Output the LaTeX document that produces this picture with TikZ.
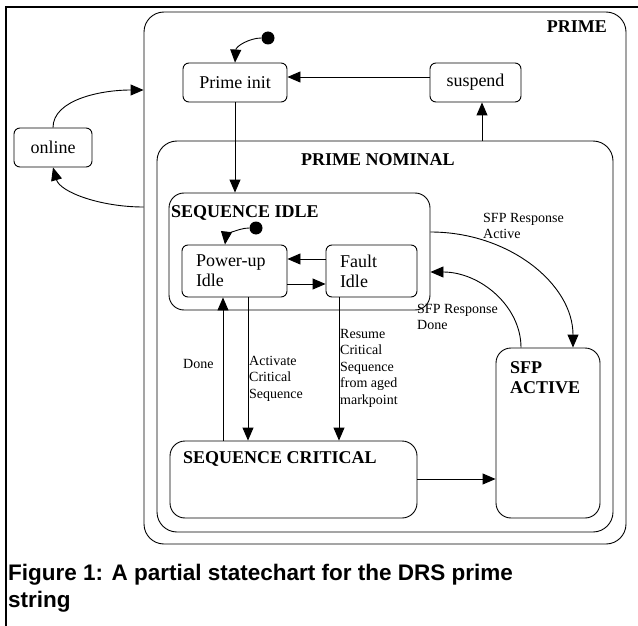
\documentclass[tikz,border=0pt]{standalone}
\usepackage{fontspec}
\setmainfont{Liberation Serif}
\newfontfamily\capfont{Liberation Sans}
\usepackage{tikz}
\usetikzlibrary{calc,arrows.meta}
\tikzset{
  statebox/.style={draw, line width=0.9pt, rounded corners=6pt, inner sep=0pt,
    font=\fontsize{18}{20}\selectfont},
  region/.style={draw, line width=0.9pt, rounded corners=#1, inner sep=0pt},
  region/.default=15pt,
  tr/.style={draw, line width=0.9pt, -{Triangle[length=13pt,width=11pt]}},
  title/.style={font=\fontsize{18}{20}\selectfont\bfseries, inner sep=0pt, align=left},
  lab/.style={font=\fontsize{14}{16.5}\selectfont, inner sep=0pt, align=left},
  pt/.style={circle, fill=black, inner sep=0pt, minimum size=13pt},
  captext/.style={font=\capfont\bfseries\fontsize{22.5}{27}\selectfont, inner sep=0pt, anchor=base west},
}

\begin{document}
\begin{tikzpicture}[x=1pt,y=-1pt]
  \useasboundingbox (0,0) rectangle (638,626);
  \draw[line width=1.5pt] (638,7) -- (6,7) -- (6,626);

  % regions
  \node[region=20pt, minimum width=482pt, minimum height=532pt] (prime) at (385,278) {};
  \node[region=20pt, minimum width=456pt, minimum height=391pt] (nominal) at (385,336.5) {};
  \node[region, minimum width=261pt, minimum height=117pt] (seqidle) at (299.5,251.5) {};
  \node[region, minimum width=247pt, minimum height=77pt] (critical) at (293.5,479.5) {};
  \node[region, minimum width=104pt, minimum height=170pt] (sfp) at (548,433) {};

  \node[title, anchor=base east] (primelab) at (607,33) {PRIME};
  \node[title, anchor=base west] (nominallab) at (301,165) {PRIME NOMINAL};
  \node[title, anchor=base west] (seqidlelab) at (171,217) {SEQUENCE IDLE};
  \node[title, anchor=base west] (criticallab) at (183,463) {SEQUENCE CRITICAL};
  \node[title, anchor=base west] (sfplab) at (510,393) {SFP\\ACTIVE};

  % states
  \node[statebox, minimum width=104pt, minimum height=39pt] (primeinit) at (235,82.5) {Prime init};
  \node[statebox, minimum width=91pt, minimum height=39pt] (suspend) at (475.5,82.5) {suspend};
  \node[statebox, minimum width=78pt, minimum height=39pt] (online) at (53,147.5) {online};
  \node[statebox, minimum height=52pt, text width=77pt, inner xsep=14pt, align=left] (powerup) at (234.5,271) {Power-up\\Idle};
  \node[statebox, minimum height=52pt, text width=63pt, inner xsep=14pt, align=left] (fault) at (371.5,271) {Fault\\Idle};

  \node[pt] (init1) at (268,38) {};
  \node[pt] (init2) at (256,228) {};

  % transitions
  \draw[tr] (init1.west) .. controls (250,38) and (236,46) .. (primeinit.north);
  \draw[tr] (init2.west) .. controls (238,228) and (226,236) .. (powerup.north -| 225,0);
  \draw[tr] (online.north) .. controls (53,100) and (100,90) .. (prime.west |- 0,90);
  \draw[tr] (prime.west |- 0,207) .. controls (100,207) and (60,192) .. (online.south);
  \draw[tr] (suspend.west |- 0,77) -- (primeinit.east |- 0,77);
  \draw[tr] (nominal.north -| 482,0) -- (suspend.south -| 482,0);
  \draw[tr] (primeinit.south) -- (primeinit.south |- seqidle.north);
  \draw[tr] (fault.west |- 0,259) -- (powerup.east |- 0,259);
  \draw[tr] (powerup.east |- 0,284) -- (fault.west |- 0,284);
  \draw[tr] (critical.north -| 223,0) -- (powerup.south -| 223,0);
  \draw[tr] (powerup.south -| 248,0) -- (critical.north -| 248,0);
  \draw[tr] (fault.south -| 339,0) -- (critical.north -| 339,0);
  \draw[tr] (critical.east |- 0,479) -- (sfp.west |- 0,479);
  \draw[tr] (seqidle.east |- 0,232) .. controls (509,232) and (573,284) .. (sfp.north -| 573,0);
  \draw[tr] (sfp.north -| 521,0) .. controls (521,306) and (480,272) .. (seqidle.east |- 0,272);

  % labels (anchored at last line)
  \node[lab, anchor=base west] (l1) at (483,238.5) {SFP Response\\Active};
  \node[lab, anchor=base west] (l2) at (417,329.5) {SFP Response\\Done};
  \node[lab, anchor=base west] (l3) at (183,368) {Done};
  \node[lab, anchor=base west] (l4) at (249,398) {Activate\\Critical\\Sequence};
  \node[lab, anchor=base west] (l5) at (340,404) {Resume\\Critical\\Sequence\\from aged\\markpoint};

  % caption
  \node[captext] (cap1) at (8,580) {Figure 1: A partial statechart for the DRS prime};
  \node[captext] (cap2) at (8,607) {string};
\end{tikzpicture}
\end{document}
